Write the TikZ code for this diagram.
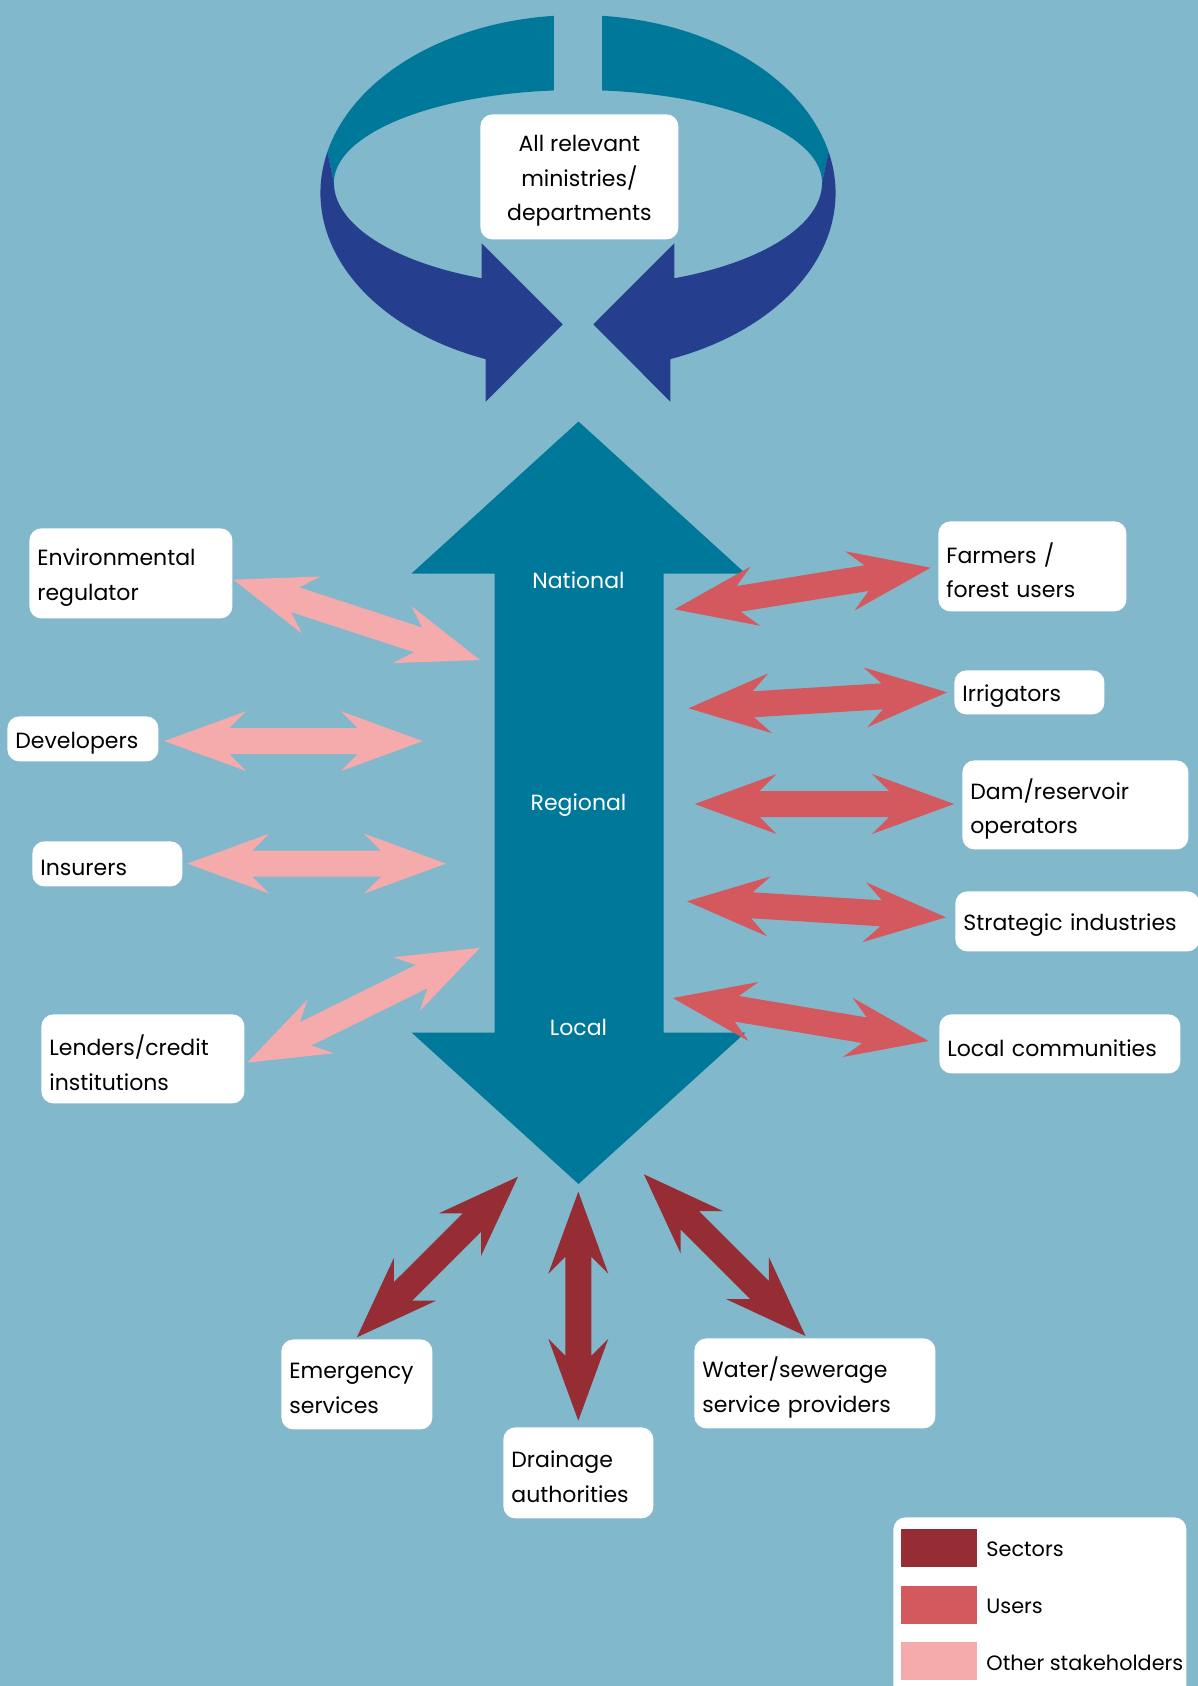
\documentclass[tikz,border=0pt]{standalone}
\usepackage{fontspec}
\setmainfont{Poppins}
\usetikzlibrary{calc}
\definecolor{bgc}{HTML}{82B8CB}
\definecolor{tealc}{HTML}{007899}
\definecolor{navyc}{HTML}{253F8E}
\definecolor{secc}{HTML}{962D34}
\definecolor{usrc}{HTML}{D3595E}
\definecolor{othc}{HTML}{F5AAAB}
\tikzset{
  boxst/.style={fill=white, rounded corners=6pt, inner sep=0pt, anchor=north west},
  txtst/.style={inner sep=0pt, align=left, anchor=west, text=black,
    font=\fontsize{11}{17.3}\selectfont},
  lvl/.style={text=white, font=\fontsize{11}{17.3}\selectfont},
  leg/.style={anchor=west, text=black, inner sep=0pt, font=\fontsize{10.4}{17}\selectfont},
}
% block double arrow between two named coordinates
\newcommand\blk[3]{%
  \fill[#1] (#2)
  -- ($(#2)!41pt!(#3)!15pt!90:(#3)$)
  -- ($(#2)!32.5pt!(#3)!6.5pt!90:(#3)$)
  -- ($(#3)!32.5pt!(#2)!6.5pt!-90:(#2)$)
  -- ($(#3)!41pt!(#2)!15pt!-90:(#2)$)
  -- (#3)
  -- ($(#3)!41pt!(#2)!15pt!90:(#2)$)
  -- ($(#3)!32.5pt!(#2)!6.5pt!90:(#2)$)
  -- ($(#2)!32.5pt!(#3)!6.5pt!-90:(#3)$)
  -- ($(#2)!41pt!(#3)!15pt!-90:(#3)$)
  -- cycle;}
% label box: name, x1, y1, x2, y2, text
\newcommand\bx[6]{%
  \pgfmathsetmacro\myBW{((#4)-(#2))/2}%
  \pgfmathsetmacro\myTW{((#4)-(#2))/2-8}%
  \pgfmathsetmacro\myBH{((#5)-(#3))/2}%
  \node[boxst, minimum width=\myBW pt, minimum height=\myBH pt] (#1) at (#2,#3) {};
  \node[txtst, text width=\myTW pt] (#1t) at ([xshift=4pt,yshift=-2pt]#1.west) {#6};}
\begin{document}
\begin{tikzpicture}[x=0.5pt,y=-0.5pt]
\fill[bgc] (0,0) rectangle (1198,1686);
\useasboundingbox (0,0) rectangle (1198,1686);

% ---- top circular arrows ----
\fill[tealc] plot[domain=95.4:166.6,samples=40] ({578+257.6*cos(\x)},{193-178*sin(\x)})
  -- plot[domain=180:95.7,samples=40] ({578+244.1*cos(\x)},{182.7-92.7*sin(\x)}) -- cycle;
\fill[tealc] plot[domain=95.4:166.6,samples=40] ({578-257.6*cos(\x)},{193-178*sin(\x)})
  -- plot[domain=180:95.7,samples=40] ({578-244.1*cos(\x)},{182.7-92.7*sin(\x)}) -- cycle;
\fill[navyc] plot[domain=166.6:249,samples=40] ({578+257.6*cos(\x)},{193-178*sin(\x)})
  -- (485.7,401.7) -- (562.7,324.3) -- (481.7,243.3) -- (481.7,279.3)
  -- plot[domain=246.7:180,samples=40] ({578+244.1*cos(\x)},{182.7-104*sin(\x)}) -- cycle;
\fill[navyc] plot[domain=166.6:249,samples=40] ({578-257.6*cos(\x)},{193-178*sin(\x)})
  -- (670.3,401.7) -- (593.3,324.3) -- (674.3,243.3) -- (674.3,279.3)
  -- plot[domain=246.7:180,samples=40] ({578-244.1*cos(\x)},{182.7-104*sin(\x)}) -- cycle;

\node[boxst, minimum width=99pt, minimum height=62.5pt] (min) at (480,114) {};
\node[txtst, anchor=center, align=center] (mint) at ([yshift=-2pt]min.center)
  {All relevant\\ministries/\\departments};

% ---- central vertical arrow ----
\fill[tealc] (578.5,421.5) -- (745.5,573.5) -- (663.5,573.5) -- (663.5,1032.5) -- (745.5,1032.5)
  -- (578.5,1184) -- (411.5,1032.5) -- (494.5,1032.5) -- (494.5,573.5) -- (411.5,573.5) -- cycle;
\node[lvl] (nat) at (578.5,580) {National};
\node[lvl] (reg) at (578.5,805) {Regional};
\node[lvl] (loc) at (578.5,1027) {Local};

% ---- arrow end points ----
\coordinate (envA) at (233.3,579.6);  \coordinate (envB) at (480,660);
\coordinate (devA) at (164.3,741.1);  \coordinate (devB) at (422.7,741.1);
\coordinate (insA) at (187.3,863.6);  \coordinate (insB) at (446,863.6);
\coordinate (lenA) at (247.3,1062.6); \coordinate (lenB) at (480,947.8);
\coordinate (farA) at (674.5,609.3);  \coordinate (farB) at (930.7,567.7);
\coordinate (irrA) at (688.4,708.3);  \coordinate (irrB) at (947.1,692.3);
\coordinate (damA) at (694.7,804);    \coordinate (damB) at (954.1,804);
\coordinate (strA) at (687,901.3);    \coordinate (strB) at (946,917.3);
\coordinate (lcmA) at (672.7,998);    \coordinate (lcmB) at (928.6,1041);
\coordinate (emgA) at (518,1176.7);   \coordinate (emgB) at (356.9,1337.3);
\coordinate (drnA) at (578.3,1191.7); \coordinate (drnB) at (578.3,1420.7);
\coordinate (watA) at (643.9,1174.3); \coordinate (watB) at (805.5,1336);

\blk{othc}{envA}{envB}
\blk{othc}{devA}{devB}
\blk{othc}{insA}{insB}
\blk{othc}{lenA}{lenB}
\blk{usrc}{farA}{farB}
\blk{usrc}{irrA}{irrB}
\blk{usrc}{damA}{damB}
\blk{usrc}{strA}{strB}
\blk{usrc}{lcmA}{lcmB}
\blk{secc}{emgA}{emgB}
\blk{secc}{drnA}{drnB}
\blk{secc}{watA}{watB}

% ---- label boxes ----
\bx{env}{29}{528}{232}{618}{Environmental\\regulator}
\bx{dev}{7}{716}{158}{761}{Developers}
\bx{ins}{32}{841}{182}{886}{Insurers}
\bx{len}{41}{1014}{244}{1103}{Lenders/credit\\institutions}
\bx{far}{938}{521}{1126}{611}{Farmers /\\forest users}
\bx{irr}{954}{670}{1104}{714}{Irrigators}
\bx{dam}{962}{760}{1188}{849}{Dam/reservoir\\operators}
\bx{str}{955}{891}{1199}{951}{Strategic industries}
\bx{lcm}{939}{1014}{1180}{1073}{Local communities}
\bx{emg}{281}{1339}{432}{1429}{Emergency\\services}
\bx{drn}{503}{1427}{653}{1518}{Drainage\\authorities}
\bx{wat}{694}{1338}{935}{1428}{Water/sewerage\\service providers}

% ---- legend ----
\node[boxst, minimum width=146.5pt, minimum height=97pt] (legbox) at (893,1517) {};
\fill[secc] (901,1529) rectangle (977,1567);
\fill[usrc] (901,1586) rectangle (977,1624);
\fill[othc] (901,1642) rectangle (977,1680);
\node[leg] (lsec) at (986,1549) {Sectors};
\node[leg] (lusr) at (986,1606) {Users};
\node[leg] (loth) at (986,1663) {Other stakeholders};
\end{tikzpicture}
\end{document}
